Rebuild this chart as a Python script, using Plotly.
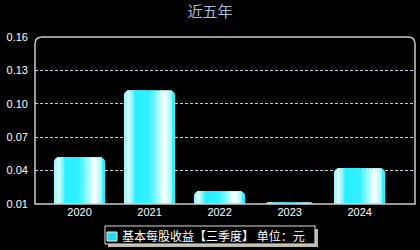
import plotly.graph_objects as go

years = ["2020", "2021", "2022", "2023", "2024"]
eps = [0.052, 0.112, 0.0215, 0.0113, 0.042]
y_ticks = [0.01, 0.04, 0.07, 0.10, 0.13, 0.16]
y_tick_text = ["0.01", "0.04", "0.07", "0.10", "0.13", "0.16"]
series_name = "基本每股收益【三季度】 单位：元"
title_text = "近五年"

W = 0.73
xs = list(range(len(years)))

# horizontal gradient profile (fraction across bar -> rgb)
stops = [
    (0.00, (100, 245, 255)),
    (0.07, (255, 255, 255)),
    (0.14, (170, 250, 255)),
    (0.24, (40, 240, 255)),
    (0.50, (50, 240, 255)),
    (0.66, (150, 248, 255)),
    (0.80, (255, 255, 255)),
    (0.90, (190, 250, 255)),
    (1.00, (40, 240, 255)),
]

def color_at(f):
    for (a, ca), (b, cb) in zip(stops[:-1], stops[1:]):
        if a <= f <= b:
            t = (f - a) / (b - a) if b > a else 0
            c = [round(ca[i] + (cb[i] - ca[i]) * t) for i in range(3)]
            return "rgb(%d,%d,%d)" % tuple(c)
    return "rgb(40,240,255)"

fig = go.Figure()
fig.add_trace(go.Bar(
    x=xs, y=eps, width=W, name=series_name,
    marker=dict(color="#33EEFF", cornerradius=5, line=dict(width=0)),
    base=0, showlegend=False, hoverinfo="skip",
))
# left edge tint
fig.add_trace(go.Bar(x=xs, y=eps, width=W * 0.5, offset=-W / 2, base=0,
                     marker=dict(color=color_at(0.03), cornerradius=5, line=dict(width=0)),
                     showlegend=False, hoverinfo="skip"))
N = 32
f0, f1 = 0.07, 0.93
step = (f1 - f0) / N
for k in range(N):
    fs = f0 + k * step
    fig.add_trace(go.Bar(
        x=xs, y=eps, width=W * step * 1.05, offset=-W / 2 + W * fs, base=0,
        marker=dict(color=color_at(fs + step / 2), line=dict(width=0)),
        showlegend=False, hoverinfo="skip",
    ))

fig.update_layout(
    width=420, height=250,
    margin=dict(l=35, r=5, t=37, b=46, autoexpand=False),
    paper_bgcolor="black", plot_bgcolor="black",
    barmode="overlay",
    showlegend=False,
    title=dict(text=title_text, x=0.5, xanchor="center", y=0.955, yanchor="middle",
               font=dict(family="Noto Sans CJK SC", size=15, color="#A8BCD8")),
    xaxis=dict(range=[-0.636, 4.79], tickvals=xs, ticktext=years, showgrid=False,
               zeroline=False, showline=False, ticks="",
               tickfont=dict(family="Liberation Sans, Arial", size=11, color="white")),
    yaxis=dict(range=[0.01, 0.16], tickvals=y_ticks, ticktext=y_tick_text,
               showgrid=True, gridcolor="#B8D4D8", griddash="3px,2px", gridwidth=1,
               zeroline=False, showline=False, ticks="", ticklabelstandoff=6,
               tickfont=dict(family="Liberation Sans, Arial", size=11, color="white")),
)

# frame with rounded top corners
fig.add_shape(type="path",
              path="M 0 0 L 0 0.96 Q 0 1 0.02 1 L 0.98 1 Q 1 1 1 0.96 L 1 0 Z",
              xref="paper", yref="paper", line=dict(color="#CCCCCC", width=1.5),
              layer="above")
# legend: shadow, box, swatch, text
fig.add_shape(type="rect", xref="paper", yref="paper",
              x0=0.192, x1=0.7447, y0=-0.2575, y1=-0.1497,
              fillcolor="#BBBBAA", line=dict(width=0), layer="above")
fig.add_shape(type="rect", xref="paper", yref="paper",
              x0=0.1842, x1=0.7368, y0=-0.2395, y1=-0.1317,
              fillcolor="black", line=dict(color="#DDDDDD", width=1), layer="above")
fig.add_shape(type="rect", xref="paper", yref="paper",
              x0=0.1895, x1=0.2158, y0=-0.2216, y1=-0.1677,
              fillcolor="#22DDF0", line=dict(color="#EEEEEE", width=1), layer="above")
fig.add_annotation(text=series_name, xref="paper", yref="paper",
                   x=0.2237, y=-0.1916, xanchor="left", yanchor="middle",
                   showarrow=False,
                   font=dict(family="Noto Sans CJK SC", size=12, color="white"))

fig.write_html("out.html")
